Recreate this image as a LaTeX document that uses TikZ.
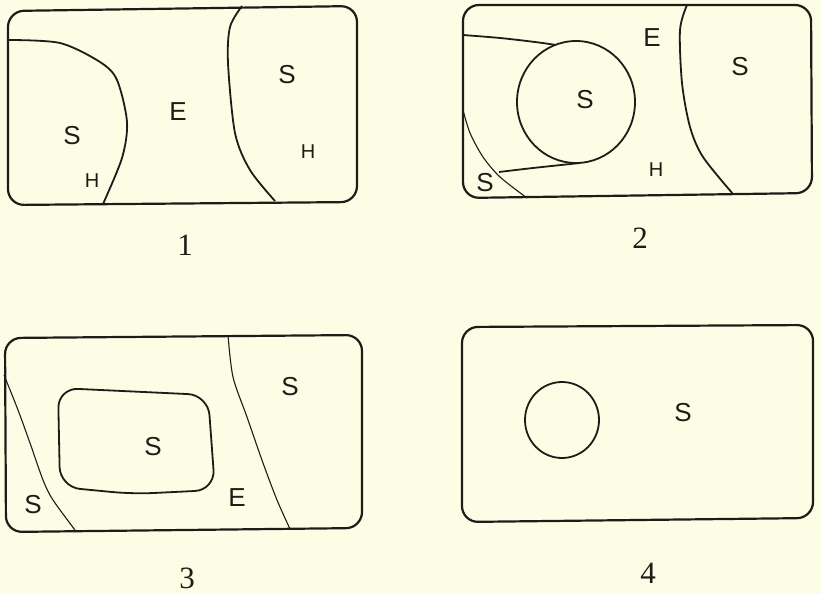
\documentclass[tikz,border=0pt]{standalone}
\usepackage{fontspec}
\setsansfont{Liberation Sans}
\newfontfamily\numfont{Liberation Serif}
\definecolor{paper}{RGB}{253,253,229}
\definecolor{ink}{RGB}{28,28,24}
\begin{document}
\begin{tikzpicture}[x=1pt,y=-1pt,
  frame/.style={draw=ink, line width=2.2pt, rounded corners=16pt},
  border/.style={draw=ink, line width=1.8pt},
  thinborder/.style={draw=ink, line width=1.1pt},
  zone/.style={font=\sffamily\fontsize{26}{26}\selectfont, text=ink, inner sep=0pt},
  hzone/.style={font=\sffamily\fontsize{20}{20}\selectfont, text=ink, inner sep=0pt},
  num/.style={font=\numfont\fontsize{31}{31}\selectfont, text=ink, inner sep=0pt}]
\fill[paper] (0,0) rectangle (821,594);
\useasboundingbox (0,0) rectangle (821,594);

% panel 1
\draw[frame] (8,11) -- (357,6) -- (357,202) -- (8,205) -- cycle;
\draw[border] plot[smooth] coordinates {(8,40) (60,43) (100,62) (117,80) (127,122) (122,158) (103,204)};
\draw[border] plot[smooth] coordinates {(242,6) (230,27) (228,63) (235,133) (250,170) (275,201)};
\node[zone] (s1a) at (72,136) {S};
\node[hzone] (h1a) at (92,181) {H};
\node[zone] (e1) at (178,112) {E};
\node[zone] (s1b) at (287,75) {S};
\node[hzone] (h1b) at (308,152) {H};
\node[num] (n1) at (185,245) {1};

% panel 2
\draw[frame] (463,5) -- (811,5) -- (812,193) -- (463,198) -- cycle;
\draw[border] (576,102) circle [x radius=59, y radius=61];
\draw[border] plot[smooth] coordinates {(463,35) (500,38) (535,42) (556,45)};
\draw[border] plot[smooth] coordinates {(499,172) (533,168) (580,163)};
\draw[thinborder] plot[smooth] coordinates {(463,110) (470,133) (483,157) (500,177) (527,198)};
\draw[border] plot[smooth] coordinates {(687,5) (680,30) (682,83) (690,127) (703,157) (733,194)};
\node[zone] (e2) at (652,38) {E};
\node[zone] (s2a) at (740,67) {S};
\node[zone] (s2b) at (585,100) {S};
\node[hzone] (h2) at (656,170) {H};
\node[zone] (s2c) at (485,183) {S};
\node[num] (n2) at (640,238) {2};

% panel 3
\draw[frame] (5,338) -- (362,335) -- (362,528) -- (6,532) -- cycle;
\draw[border, rounded corners=20pt] (58,388) -- (208,395) -- (215,490) -- (133,494) -- (60,487) -- cycle;
\draw[thinborder] plot[smooth] coordinates {(4,375) (18,410) (30,443) (43,480) (53,500) (75,530)};
\draw[thinborder] plot[smooth] coordinates {(228,335) (233,377) (247,417) (263,463) (277,500) (290,529)};
\node[zone] (s3a) at (290,387) {S};
\node[zone] (s3b) at (153,447) {S};
\node[zone] (s3c) at (33,505) {S};
\node[zone] (e3) at (237,498) {E};
\node[num] (n3) at (187,578) {3};

% panel 4
\draw[frame] (462,327) -- (813,325) -- (813,518) -- (462,522) -- cycle;
\draw[border] (562,420) circle [x radius=37, y radius=38];
\node[zone] (s4) at (683,413) {S};
\node[num] (n4) at (648,573) {4};
\end{tikzpicture}
\end{document}
